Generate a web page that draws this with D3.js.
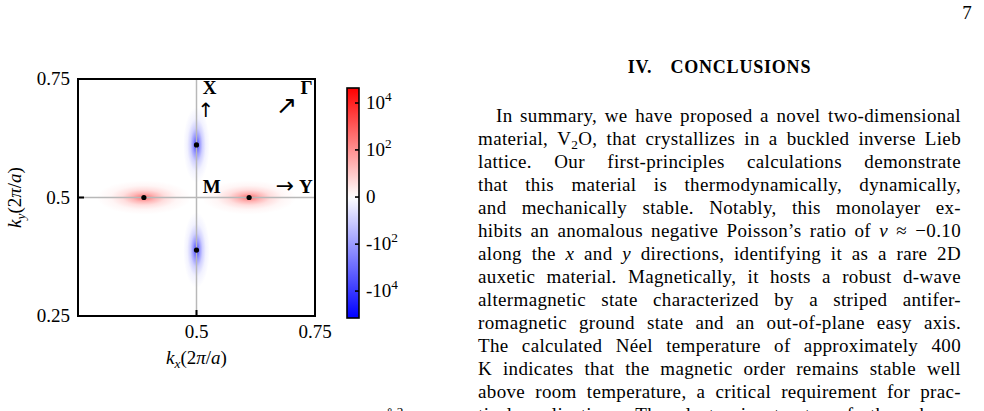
<!DOCTYPE html>
<html>
<head>
<meta charset="utf-8">
<script src="https://cdn.jsdelivr.net/npm/d3@7"></script>
<style>
  body { margin: 0; background: #fff; }
  svg { display: block; font-family: "Liberation Serif", "DejaVu Serif", serif; }
</style>
</head>
<body>
<div id="chart"></div>
<script>
// hot spots of the map, k in units of 2pi/a
const peakKx = [0.389, 0.611, 0.5, 0.5];
const peakKy = [0.5, 0.5, 0.611, 0.389];
const peakValue = [250, 250, -6000, -6000];
const peakWidthKx = [0.1, 0.1, 0.028, 0.028];
const peakWidthKy = [0.036, 0.036, 0.08, 0.08];

// axes
const kTicks = [0.25, 0.5, 0.75];
const kxTickLabels = ["", "0.5", "0.75"];
const kyTickLabels = ["0.25", "0.5", "0.75"];

// colorbar (symlog)
const cbDomain = [-1.4e5, 4.35e4];
const cbTicks = [1e4, 1e2, 0, -1e2, -1e4];
const cbTickLabels = ["10<sup>4</sup>", "10<sup>2</sup>", "0", "-10<sup>2</sup>", "-10<sup>4</sup>"];

// high-symmetry point labels (placed in k coords)
const symLabels = ["<b>X</b>", "<a>↑</a>", "<b>Γ</b>", "<a>↗</a>", "<b>M</b>", "<a>→</a> <b>Y</b>"];
const symKx = [0.513, 0.52, 0.745, 0.69, 0.513, 0.745];
const symKy = [0.718, 0.669, 0.718, 0.676, 0.51, 0.51];
const symAnchor = ["start", "middle", "end", "middle", "start", "end"];
const symArrowScale = [1, 1.05, 1, 1.35, 1, 1.15];

// page text next to the figure
const heading = ["IV.", "CONCLUSIONS"];
const paraLines = [
  "In summary, we have proposed a novel two-dimensional",
  "material, V<sub>2</sub>O, that crystallizes in a buckled inverse Lieb",
  "lattice. Our first-principles calculations demonstrate",
  "that this material is thermodynamically, dynamically,",
  "and mechanically stable. Notably, this monolayer ex-",
  "hibits an anomalous negative Poisson’s ratio of <i>ν</i> ≈ −0.10",
  "along the <i>x</i> and <i>y</i> directions, identifying it as a rare 2D",
  "auxetic material. Magnetically, it hosts a robust d-wave",
  "altermagnetic state characterized by a striped antifer-",
  "romagnetic ground state and an out-of-plane easy axis.",
  "The calculated Néel temperature of approximately 400",
  "K indicates that the magnetic order remains stable well",
  "above room temperature, a critical requirement for prac-",
  "tical applications. The electronic structure further shows"
];

const width = 984, height = 411;
const svg = d3.select("#chart").append("svg")
  .attr("width", width).attr("height", height)
  .attr("viewBox", [0, 0, width, height]);
const defs = svg.append("defs");

// small markup -> tspans
function rich(sel, str, size, arrowScale = 1.15) {
  const parts = str.split(/(<sub>.*?<\/sub>|<isub>.*?<\/isub>|<sup>.*?<\/sup>|<i>.*?<\/i>|<b>.*?<\/b>|<a>.*?<\/a>)/).filter(s => s.length);
  let back = 0;
  parts.forEach(p => {
    let m;
    if ((m = p.match(/^<(i?sub)>(.*)<\/i?sub>$/))) {
      sel.append("tspan").attr("dy", size * 0.22).style("font-size", (size * 0.7) + "px")
        .style("font-style", m[1] == "isub" ? "italic" : null).text(m[2]);
      back = -size * 0.22;
    } else if ((m = p.match(/^<sup>(.*)<\/sup>$/))) {
      sel.append("tspan").attr("dy", -size * 0.42).style("font-size", (size * 0.7) + "px").text(m[1]);
      back = size * 0.42;
    } else if ((m = p.match(/^<i>(.*)<\/i>$/))) {
      sel.append("tspan").attr("dy", back || null).style("font-style", "italic").text(m[1]);
      back = 0;
    } else if ((m = p.match(/^<b>(.*)<\/b>$/))) {
      sel.append("tspan").attr("dy", back || null).style("font-weight", "bold").text(m[1]);
      back = 0;
    } else if ((m = p.match(/^<a>(.*)<\/a>$/))) {
      // arrows, forced to text presentation
      sel.append("tspan").attr("dy", back || null).style("font-size", (size * arrowScale) + "px")
        .style("font-family", "'DejaVu Sans'").attr("fill", "#000").text(m[1] + "\uFE0E");
      back = 0;
    } else {
      sel.append("tspan").attr("dy", back || null).text(p);
      back = 0;
    }
  });
  return sel;
}

// ---------- map ----------
const x = d3.scaleLinear().domain([0.25, 0.75]).range([78, 315]);
const y = d3.scaleLinear().domain([0.25, 0.75]).range([316, 79]);

const posT = d3.scaleSymlog().domain([0, cbDomain[1]]).range([0, 1]).clamp(true);
const negT = d3.scaleSymlog().domain([0, -cbDomain[0]]).range([0, 1]).clamp(true);
const color = v => v >= 0 ? d3.interpolateRgb("#ffffff", "#ff0000")(posT(v))
                          : d3.interpolateRgb("#ffffff", "#0000ff")(negT(-v));

defs.append("clipPath").attr("id", "plotclip")
  .append("rect").attr("x", x(0.25)).attr("y", y(0.75))
  .attr("width", x(0.75) - x(0.25)).attr("height", y(0.25) - y(0.75));

const peaks = peakKx.map((kx, i) => ({ kx, ky: peakKy[i], v: peakValue[i], wx: peakWidthKx[i], wy: peakWidthKy[i] }));

const grad = defs.selectAll("radialGradient").data(peaks).join("radialGradient")
  .attr("id", (d, i) => "blob" + i);
[[0, 1], [0.1, 0.88], [0.25, 0.55], [0.45, 0.25], [0.7, 0.07], [1, 0]].forEach(([o, a]) => {
  grad.append("stop").attr("offset", o).attr("stop-color", d => color(d.v)).attr("stop-opacity", a);
});

const plot = svg.append("g").attr("clip-path", "url(#plotclip)");
plot.selectAll("ellipse").data(peaks).join("ellipse")
  .attr("cx", d => x(d.kx)).attr("cy", d => y(d.ky))
  .attr("rx", d => x(d.kx + d.wx) - x(d.kx))
  .attr("ry", d => y(d.ky) - y(d.ky + d.wy))
  .attr("fill", (d, i) => `url(#blob${i})`);

// M-X and M-Y guide lines
plot.append("line").attr("x1", x(0.5)).attr("x2", x(0.5)).attr("y1", y(0.25)).attr("y2", y(0.75))
  .attr("stroke", "#b8b8b8").attr("stroke-width", 1.5);
plot.append("line").attr("x1", x(0.25)).attr("x2", x(0.75)).attr("y1", y(0.5)).attr("y2", y(0.5))
  .attr("stroke", "#b8b8b8").attr("stroke-width", 1.5);

plot.selectAll("circle").data(peaks).join("circle")
  .attr("cx", d => x(d.kx)).attr("cy", d => y(d.ky)).attr("r", 2.6).attr("fill", "#000");

// symmetry labels
symLabels.forEach((s, i) => {
  rich(svg.append("text").attr("x", x(symKx[i])).attr("y", y(symKy[i]))
    .attr("text-anchor", symAnchor[i]).style("font-size", "19px"), s, 19, symArrowScale[i]);
});

// frame + inward ticks
svg.append("rect").attr("x", x(0.25)).attr("y", y(0.75))
  .attr("width", x(0.75) - x(0.25)).attr("height", y(0.25) - y(0.75))
  .attr("fill", "none").attr("stroke", "#000").attr("stroke-width", 2);
svg.append("g").selectAll("line").data(kTicks).join("line")
  .attr("x1", x(0.25)).attr("x2", x(0.25) + 6).attr("y1", d => y(d)).attr("y2", d => y(d))
  .attr("stroke", "#000").attr("stroke-width", 2);
svg.append("g").selectAll("line").data(kTicks).join("line")
  .attr("y1", y(0.25)).attr("y2", y(0.25) - 6).attr("x1", d => x(d)).attr("x2", d => x(d))
  .attr("stroke", "#000").attr("stroke-width", 2);

svg.append("g").selectAll("text").data(kTicks).join("text")
  .attr("x", 70).attr("y", d => y(d) + 6).attr("text-anchor", "end")
  .style("font-size", "19px").text((d, i) => kyTickLabels[i]);
svg.append("g").selectAll("text").data(kTicks).join("text")
  .attr("x", d => x(d)).attr("y", y(0.25) + 22).attr("text-anchor", "middle")
  .style("font-size", "19px").text((d, i) => kxTickLabels[i]);

rich(svg.append("text").attr("x", x(0.5)).attr("y", 364).attr("text-anchor", "middle")
  .style("font-size", "19px"), "<i>k</i><isub>x</isub>(2<i>π</i>/<i>a</i>)", 19);
rich(svg.append("text").attr("transform", `translate(21,${y(0.5)}) rotate(-90)`).attr("text-anchor", "middle")
  .style("font-size", "19px"), "<i>k</i><isub>y</isub>(2<i>π</i>/<i>a</i>)", 19);

// ---------- colorbar ----------
const cbX = 347, cbW = 12;
const cb = d3.scaleSymlog().domain(cbDomain).range([318, 88]);
const cbGrad = defs.append("linearGradient").attr("id", "cbgrad")
  .attr("x1", 0).attr("y1", 1).attr("x2", 0).attr("y2", 0);
d3.range(0, 1.0001, 0.02).forEach(t => {
  const py = 318 - t * 230;
  cbGrad.append("stop").attr("offset", t).attr("stop-color", color(cb.invert(py)));
});
svg.append("rect").attr("x", cbX).attr("y", 88).attr("width", cbW).attr("height", 230)
  .attr("fill", "url(#cbgrad)").attr("stroke", "#000").attr("stroke-width", 1.6);
svg.append("g").selectAll("line").data(cbTicks).join("line")
  .attr("x1", cbX + cbW).attr("x2", cbX + cbW - 4).attr("y1", d => cb(d)).attr("y2", d => cb(d))
  .attr("stroke", "#000").attr("stroke-width", 1.6);
cbTicks.forEach((v, i) => {
  rich(svg.append("text").attr("x", cbX + cbW + 7).attr("y", cb(v) + 6).style("font-size", "19px"),
    cbTickLabels[i], 19);
});

// ---------- page text ----------
const colL = 478, colR = 961, indent = 18, base0 = 122, lead = 23;
svg.append("text").attr("x", 967).attr("y", 19).attr("text-anchor", "middle")
  .style("font-size", "19px").text("7");

const head = svg.append("text").attr("x", (colL + colR) / 2).attr("y", 73).attr("text-anchor", "middle")
  .style("font-size", "18px").style("font-weight", "bold").style("letter-spacing", "0.8px");
head.append("tspan").text(heading[0]);
head.append("tspan").attr("dx", 18).text(heading[1]);

paraLines.forEach((line, li) => {
  const words = line.split(" ");
  const g = svg.append("g");
  const nodes = words.map(w => rich(g.append("text").attr("y", base0 + li * lead)
    .style("font-size", "19px").style("letter-spacing", "0.35px"), w, 19));
  const widths = nodes.map(n => n.node().getComputedTextLength());
  const start = colL + (li === 0 ? indent : 0);
  const gap = (colR - start - d3.sum(widths)) / (words.length - 1);
  let cx = start;
  nodes.forEach((n, i) => { n.attr("x", cx); cx += widths[i] + gap; });
});

// fragment of the caption below the figure, cut at the page edge
rich(svg.append("text").attr("x", 383).attr("y", 424).style("font-size", "19px"), "Å<sup>2</sup>", 19);
</script>
</body>
</html>
